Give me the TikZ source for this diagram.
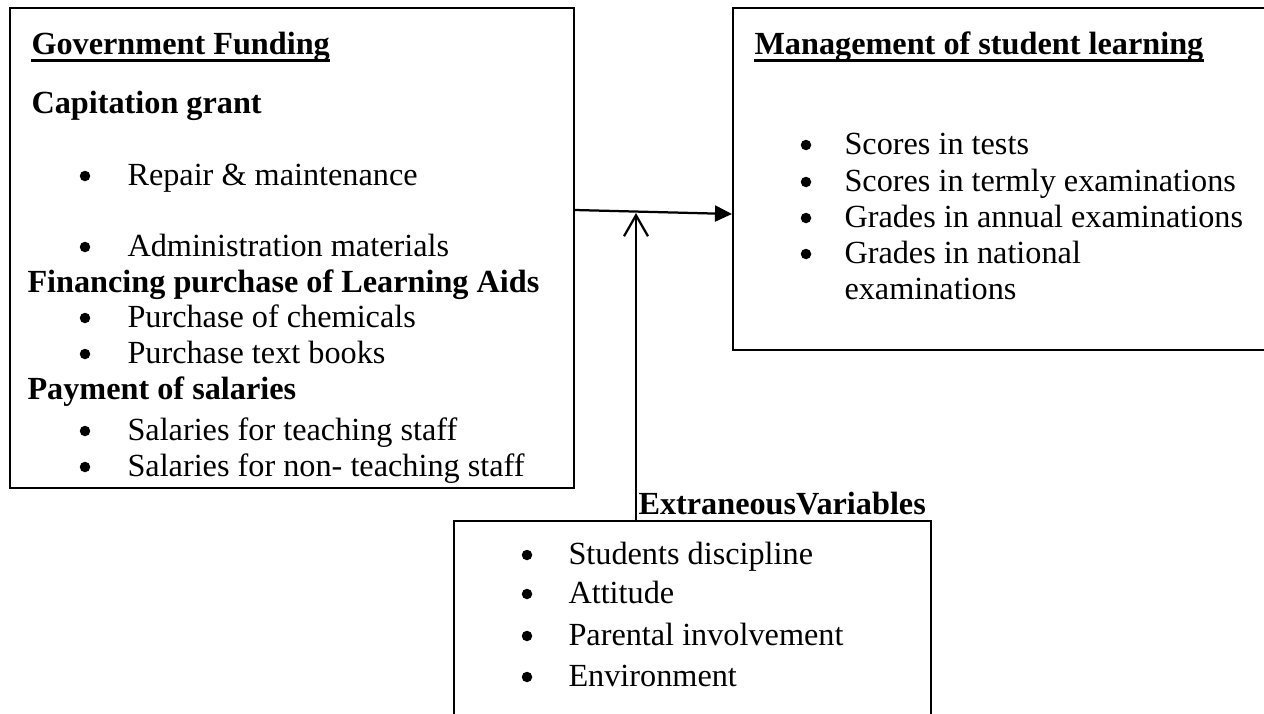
\documentclass[tikz,border=0pt]{standalone}
\usepackage{fontspec}
\setmainfont{Liberation Serif}
\usetikzlibrary{arrows.meta}
\begin{document}
\begin{tikzpicture}[x=0.4pt,y=-0.4pt,
  box/.style={draw, line width=0.7pt, rectangle, inner sep=0pt, anchor=north west},
  txt/.style={anchor=base west, inner sep=0pt, font=\fontsize{12.9}{15}\selectfont},
  hd/.style={txt, font=\fontsize{12.9}{15}\selectfont\bfseries},
  dot/.style={circle, fill, inner sep=0pt, minimum size=4.2pt},
  uline/.style={line width=1pt},
  link/.style={line width=0.9pt}]
\clip (0,0) rectangle (1264,713);

% frames
\node[box, minimum width=225.6pt, minimum height=192pt] (gov) at (9,7) {};
\node[box, minimum width=215pt, minimum height=136.8pt] (mgmt) at (732,7) {};
\node[box, minimum width=190.8pt, minimum height=100pt] (extra) at (453,520) {};

% government funding
\node[hd] (g0) at (31,54) {Government Funding};
\node[hd] (g1) at (31,113) {Capitation grant};
\node[dot] (b1) at (85,176) {};
\node[txt] (g2) at (127,185) {Repair \& maintenance};
\node[dot] (b2) at (85,247) {};
\node[txt] (g3) at (127,256) {Administration materials};
\node[hd] (g4) at (27,292) {Financing purchase of Learning Aids};
\node[dot] (b3) at (85,318) {};
\node[txt] (g5) at (127,327) {Purchase of chemicals};
\node[dot] (b4) at (85,354) {};
\node[txt] (g6) at (127,363) {Purchase text books};
\node[hd] (g7) at (27,399) {Payment of salaries};
\node[dot] (b5) at (85,431) {};
\node[txt] (g8) at (127,440) {Salaries for teaching staff};
\node[dot] (b6) at (85,467) {};
\node[txt] (g9) at (127,476) {Salaries for non- teaching staff};

% management of student learning
\node[hd] (m0) at (754,54) {Management of student learning};
\node[dot] (c1) at (806,145) {};
\node[txt] (m1) at (844,154) {Scores in tests};
\node[dot] (c2) at (806,182) {};
\node[txt] (m2) at (844,191) {Scores in termly examinations};
\node[dot] (c3) at (806,218) {};
\node[txt] (m3) at (844,227) {Grades in annual examinations};
\node[dot] (c4) at (806,254) {};
\node[txt] (m4) at (844,263) {Grades in national};
\node[txt] (m5) at (844,299) {examinations};

% heading underlines
\draw[uline] ([yshift=-2.6pt]g0.base west) -- ([yshift=-2.6pt]g0.base east);
\draw[uline] ([yshift=-2.6pt]m0.base west) -- ([yshift=-2.6pt]m0.base east);

% extraneous variables
\node[hd] (e0) at (638,514) {ExtraneousVariables};
\node[dot] (d1) at (527,555) {};
\node[txt] (e1) at (568,564) {Students discipline};
\node[dot] (d2) at (527,594) {};
\node[txt] (e2) at (568,603) {Attitude};
\node[dot] (d3) at (527,636) {};
\node[txt] (e3) at (568,645) {Parental involvement};
\node[dot] (d4) at (527,677) {};
\node[txt] (e4) at (568,686) {Environment};

% connectors
\coordinate (hs) at (gov.east |- 0,210);
\coordinate (he) at (mgmt.west |- 0,214);
\draw[link, -{Triangle[length=6.8pt,width=6.4pt]}] (hs) -- (he);
\coordinate (vs) at (extra.north -| 636,0);
\coordinate (ve) at (636,213);
\draw[link, -{Straight Barb[length=8.4pt,width=9.6pt]}] (vs) -- (ve);
\end{tikzpicture}
\end{document}
